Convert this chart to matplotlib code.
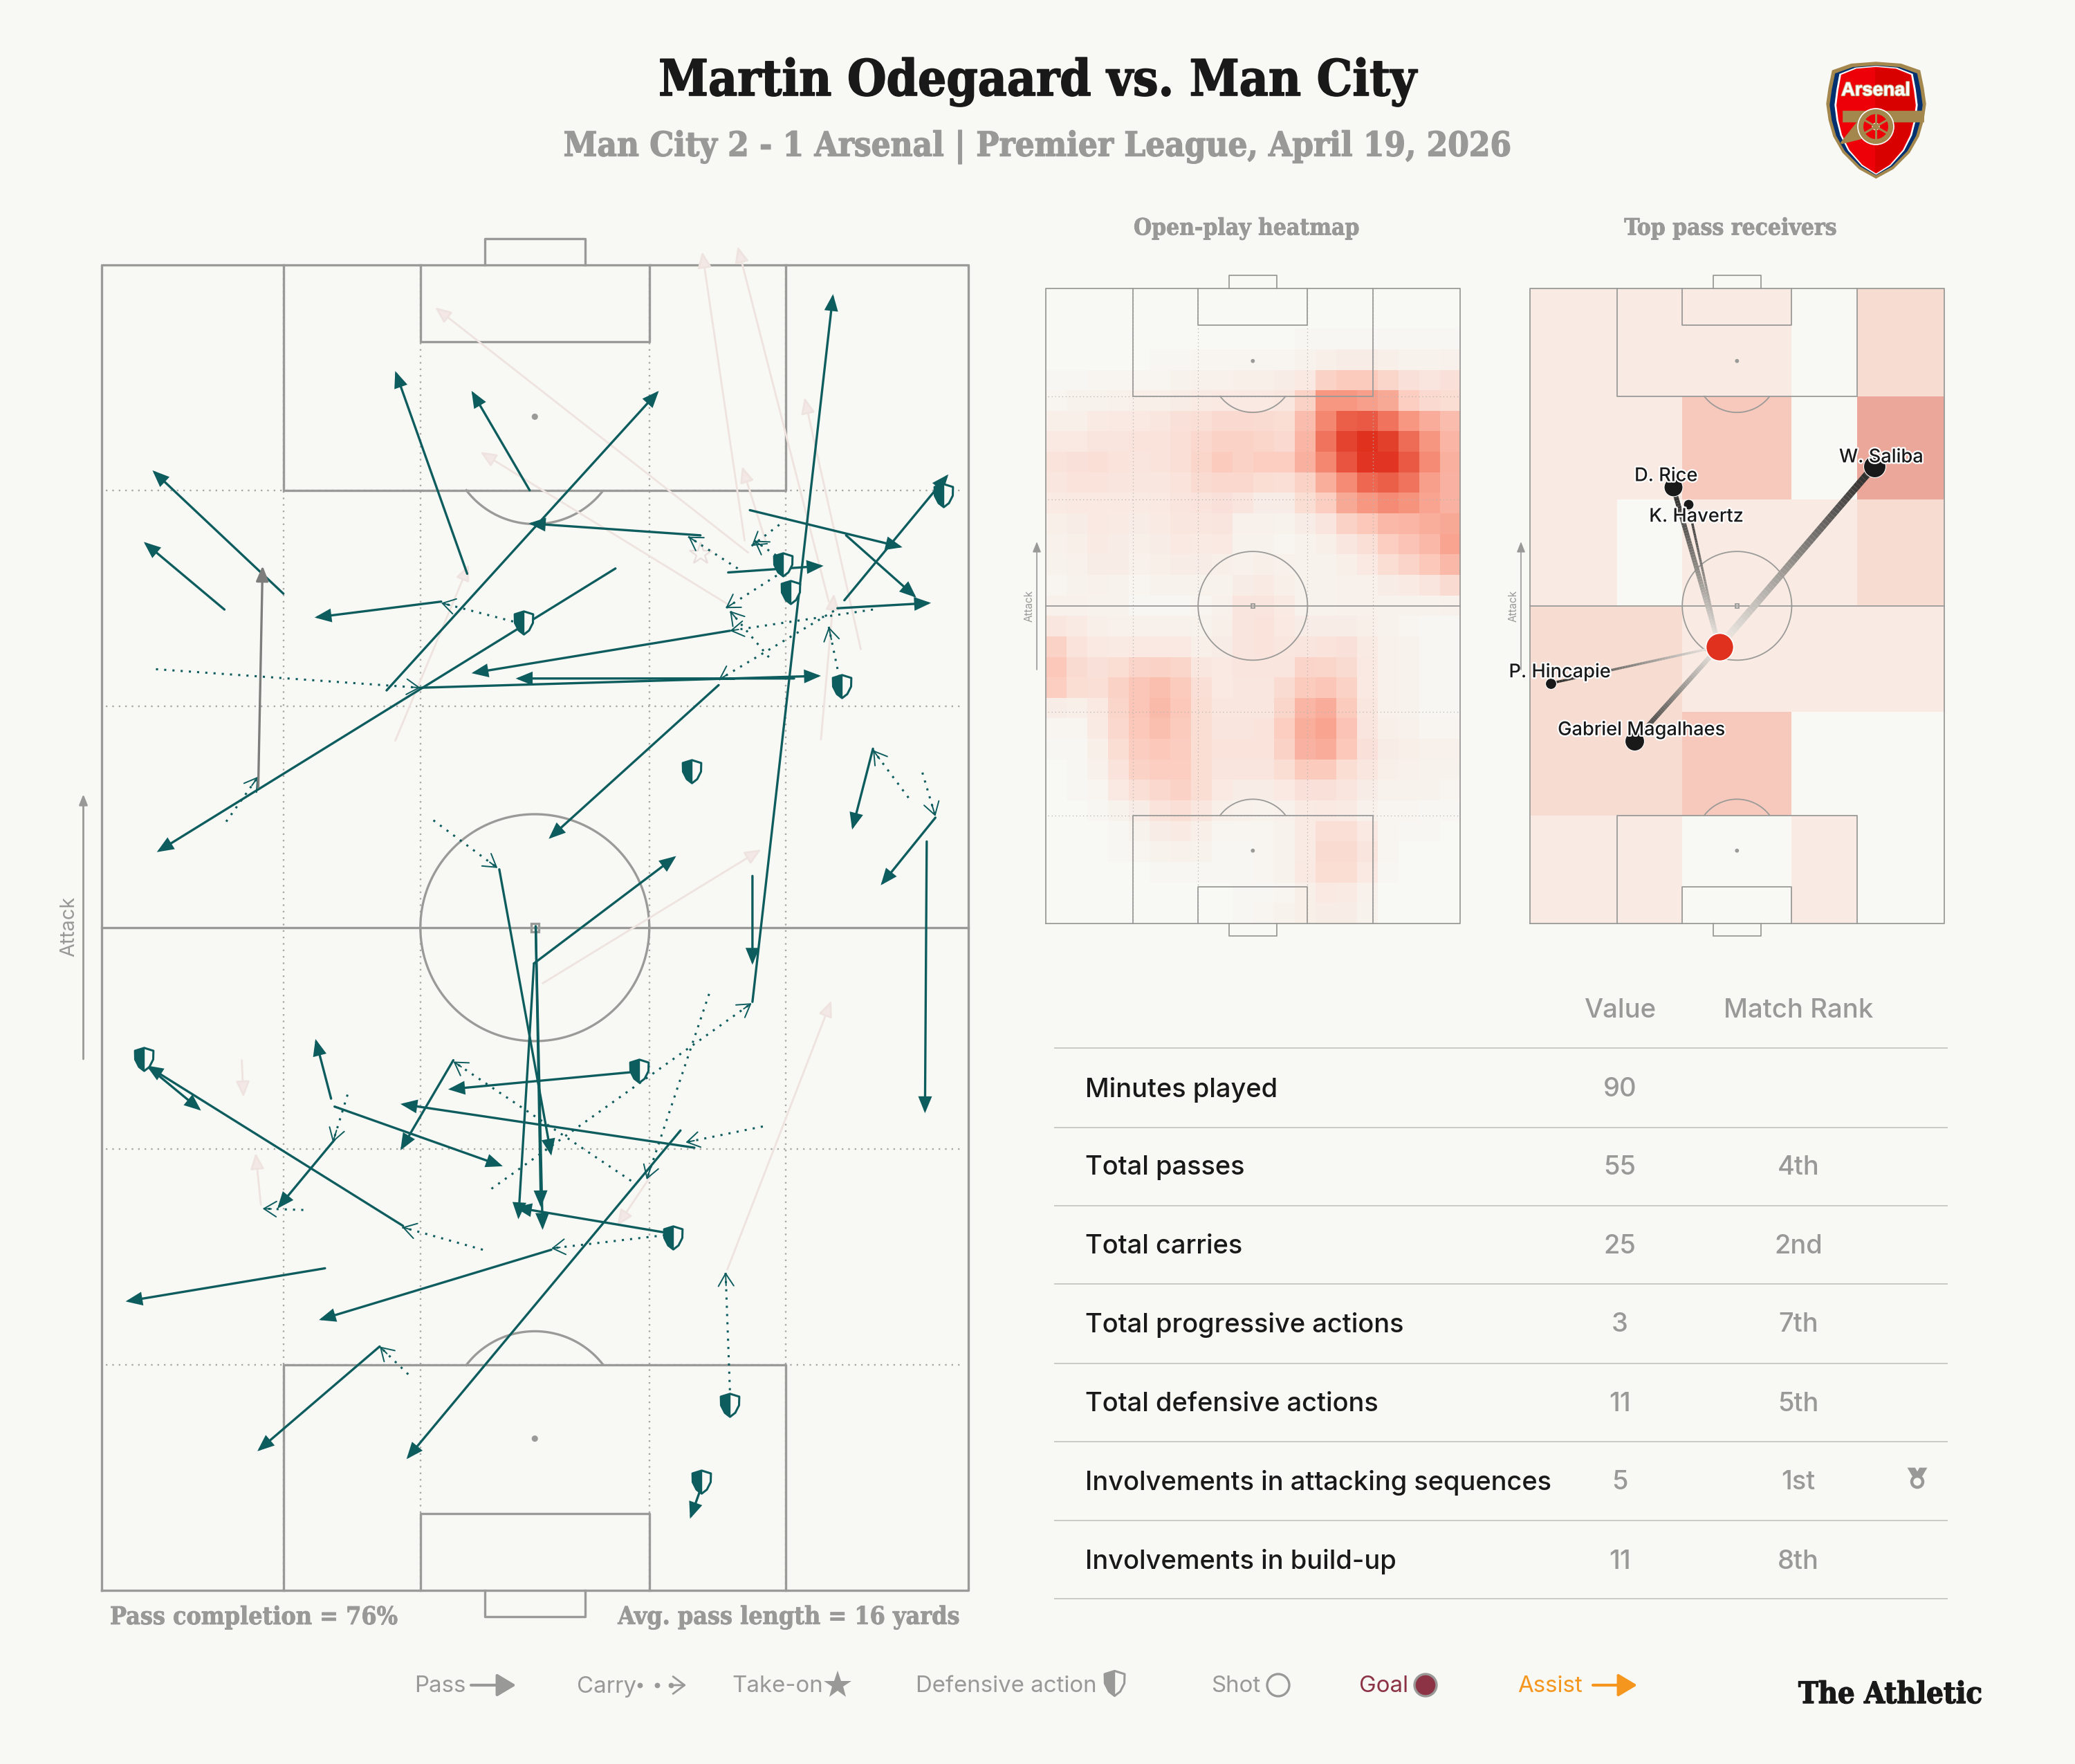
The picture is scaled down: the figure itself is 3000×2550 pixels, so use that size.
import numpy as np
import matplotlib
matplotlib.use("Agg")
import matplotlib.pyplot as plt
import matplotlib.patheffects as pe
from matplotlib.path import Path
from matplotlib.patches import FancyArrowPatch, Polygon, Circle, Ellipse, Rectangle
from matplotlib.collections import LineCollection
from matplotlib.colors import LinearSegmentedColormap, ListedColormap

BG = "#f8f8f4"
LINE = "#9a9a98"
GREY = "#999997"
TEAL = "#0d5c5e"
INK = "#191919"
SLAB = "DejaVu Serif"
SANS = "Inter"

# pitch coordinates: x 0-100 left to right, y 0-100 towards attacking goal
passes = [
    (21.0, 75.2, 5.9, 84.5), (14.2, 74.0, 4.9, 79.1), (42.2, 76.7, 33.9, 92.0),
    (49.4, 83.0, 42.7, 90.5), (32.9, 67.9, 64.3, 90.5), (69.1, 79.6, 49.3, 80.5),
    (59.3, 77.1, 6.4, 55.7), (39.2, 74.6, 24.6, 73.4), (72.3, 76.8, 83.3, 77.3),
    (74.8, 81.5, 92.4, 78.7), (85.9, 79.6, 94.0, 74.9), (85.7, 74.7, 97.7, 84.2),
    (84.9, 74.1, 95.7, 74.5), (72.5, 72.4, 42.7, 69.2), (36.8, 68.1, 83.0, 69.0),
    (79.9, 68.8, 47.8, 68.8), (71.2, 68.3, 51.6, 56.7), (75.1, 44.4, 84.4, 97.8),
    (95.2, 56.5, 95.0, 36.0), (75.1, 53.9, 75.1, 47.2), (96.2, 58.3, 89.9, 53.2),
    (89.0, 63.5, 86.6, 57.4), (49.9, 47.3, 66.3, 55.4), (45.9, 54.4, 51.9, 32.8),
    (50.1, 50.1, 50.9, 27.2), (50.1, 50.1, 50.7, 28.9), (49.9, 47.3, 48.1, 28.0),
    (61.2, 39.1, 40.0, 37.8), (68.4, 33.4, 34.5, 36.7), (26.9, 36.5, 46.3, 32.0),
    (40.6, 40.0, 34.5, 33.2), (26.5, 37.1, 24.7, 41.6), (5.2, 39.6, 11.5, 36.2),
    (34.8, 27.5, 5.2, 39.6), (26.9, 34.0, 20.3, 28.8), (65.0, 27.0, 47.7, 28.9),
    (51.9, 25.7, 25.1, 20.4), (25.8, 24.3, 2.8, 21.8), (66.8, 34.7, 35.2, 9.9),
    (32.1, 18.4, 18.0, 10.5), (69.1, 7.6, 67.9, 5.4),
]
key_passes = [(18.1, 60.6, 18.6, 77.3)]
failed_passes = [
    (74.6, 78.3, 38.5, 96.8), (74.2, 79.2, 69.3, 101.0), (83.9, 74.6, 73.4, 101.4),
    (87.6, 71.0, 81.1, 90.0), (83.0, 64.2, 84.5, 75.2), (72.5, 74.3, 43.7, 85.9),
    (76.6, 79.2, 73.9, 84.8), (33.9, 64.1, 42.4, 77.4), (50.9, 45.8, 76.1, 55.9),
    (72.2, 24.2, 84.2, 44.5), (16.2, 40.0, 16.4, 37.2), (18.4, 29.1, 17.8, 33.0),
    (63.3, 31.2, 59.5, 27.5),
]
carries = [
    (6.3, 69.5, 36.8, 68.1), (14.4, 58.0, 18.1, 61.4), (47.5, 73.1, 39.2, 74.5),
    (73.4, 77.1, 67.7, 79.5), (78.2, 80.4, 75.0, 78.8), (79.4, 77.4, 75.3, 79.2),
    (78.7, 76.9, 72.0, 74.1), (77.0, 70.4, 72.5, 73.9), (89.0, 74.0, 72.5, 72.4),
    (84.5, 73.9, 71.2, 68.7), (85.3, 68.3, 83.9, 72.7), (93.1, 59.8, 89.0, 63.4),
    (94.7, 61.7, 96.2, 58.4), (38.3, 58.1, 45.7, 54.5), (45.0, 30.3, 75.0, 44.3),
    (70.1, 45.0, 62.9, 31.0), (61.1, 30.9, 40.6, 39.9), (76.3, 35.0, 67.4, 33.8),
    (28.4, 37.4, 26.7, 33.8), (23.3, 28.7, 18.6, 28.8), (44.0, 25.7, 34.7, 27.4),
    (65.0, 26.8, 51.9, 25.8), (35.4, 16.3, 32.1, 18.4), (72.5, 15.1, 72.0, 24.0),
]
def_x = [48.7, 78.6, 79.5, 97.1, 85.4, 68.1, 4.9, 62.0, 65.9, 72.5, 69.2]
def_y = [73.0, 77.4, 75.3, 82.6, 68.2, 61.8, 40.1, 39.2, 26.6, 14.0, 8.2]
takeon_x = [69.1]
takeon_y = [78.2]

heat = [
    [0] * 20,
    [0] * 20,
    [0, 0, 0, 0, 0, 0, 0, 0, 0, 0, 0, 0, 1, 1, 1, 1, 1, 1, 1, 1],
    [0, 0, 0, 0, 0, 1, 1, 2, 2, 2, 2, 2, 3, 5, 6, 6, 5, 3, 3, 4],
    [1, 1, 2, 2, 2, 2, 3, 4, 4, 5, 5, 6, 8, 20, 24, 24, 18, 12, 10, 12],
    [2, 3, 3, 4, 5, 5, 6, 7, 8, 8, 8, 9, 20, 45, 45, 42, 38, 22, 16, 14],
    [5, 5, 7, 8, 8, 9, 12, 13, 16, 16, 15, 14, 30, 52, 72, 75, 62, 45, 37, 30],
    [8, 8, 10, 10, 11, 11, 13, 17, 20, 20, 18, 16, 33, 62, 88, 100, 90, 66, 46, 33],
    [11, 12, 13, 11, 10, 11, 13, 18, 24, 20, 22, 22, 35, 52, 78, 97, 97, 75, 50, 35],
    [9, 11, 11, 10, 9, 9, 11, 15, 17, 17, 14, 13, 20, 36, 50, 68, 72, 62, 42, 34],
    [7, 8, 8, 8, 7, 8, 10, 11, 12, 10, 6, 6, 14, 22, 38, 45, 50, 47, 40, 34],
    [5, 6, 8, 7, 6, 7, 9, 9, 10, 4, 4, 3, 6, 10, 20, 25, 32, 33, 36, 38],
    [4, 5, 7, 6, 5, 6, 8, 7, 8, 3, 3, 2, 3, 5, 9, 13, 22, 27, 32, 40],
    [3, 4, 6, 6, 4, 5, 6, 6, 5, 4, 5, 4, 3, 3, 5, 8, 14, 19, 25, 32],
    [2, 3, 4, 3, 2, 3, 3, 3, 3, 6, 7, 5, 3, 3, 4, 4, 6, 7, 10, 15],
    [4, 4, 3, 3, 1, 1, 1, 2, 4, 10, 10, 7, 3, 3, 4, 4, 3, 3, 3, 4],
    [9, 7, 5, 4, 4, 4, 4, 3, 5, 10, 11, 8, 6, 6, 6, 5, 3, 2, 1, 1],
    [20, 11, 8, 7, 8, 8, 8, 5, 6, 10, 11, 9, 10, 11, 12, 7, 4, 3, 1, 1],
    [25, 15, 12, 14, 19, 20, 18, 9, 8, 10, 10, 10, 19, 18, 15, 8, 4, 3, 1, 1],
    [22, 14, 13, 20, 26, 29, 24, 13, 8, 9, 9, 15, 24, 26, 20, 8, 4, 3, 1, 1],
    [6, 5, 8, 18, 26, 31, 25, 14, 9, 9, 9, 18, 33, 37, 24, 9, 4, 3, 1, 1],
    [2, 2, 7, 17, 25, 29, 24, 14, 10, 10, 11, 22, 36, 40, 27, 10, 5, 4, 2, 2],
    [1, 1, 5, 14, 23, 25, 23, 14, 11, 11, 11, 20, 34, 37, 25, 12, 6, 5, 4, 4],
    [0, 1, 4, 11, 20, 22, 22, 14, 10, 10, 10, 14, 24, 24, 14, 9, 5, 4, 3, 3],
    [0, 1, 2, 8, 13, 17, 20, 14, 8, 6, 6, 8, 12, 12, 10, 6, 3, 3, 3, 2],
    [0, 0, 1, 3, 6, 11, 13, 9, 5, 4, 3, 4, 7, 8, 7, 4, 2, 2, 1, 1],
    [0, 0, 0, 1, 3, 6, 7, 5, 2, 2, 2, 3, 7, 13, 13, 8, 2, 1, 1, 0],
    [0, 0, 0, 1, 2, 3, 4, 3, 1, 1, 2, 3, 7, 15, 15, 10, 2, 0, 0, 0],
    [0, 0, 0, 0, 0, 1, 1, 1, 1, 1, 2, 3, 8, 14, 14, 8, 1, 0, 0, 0],
    [0, 0, 0, 0, 0, 0, 0, 0, 0, 1, 1, 2, 5, 8, 7, 4, 0, 0, 0, 0],
    [0, 0, 0, 0, 0, 0, 0, 0, 0, 1, 2, 3, 5, 6, 6, 3, 0, 0, 0, 0],
]

zone_x = [0, 21.05, 36.8, 63.2, 78.9, 100]
zone_y = [100, 83, 66.7, 50, 33.3, 17, 0]
zone_levels = [
    [1, 1, 1, 0, 2],
    [1, 1, 3, 0, 4],
    [1, 0, 1, 1, 2],
    [2, 2, 1, 1, 1],
    [2, 2, 3, 0, 0],
    [1, 1, 0, 1, 0],
]
player_x = 45.75
player_y = 43.6
receiver_names = ["W. Saliba", "D. Rice", "K. Havertz", "P. Hincapie", "Gabriel Magalhaes"]
receiver_x = [83.1, 34.6, 38.2, 5.1, 25.2]
receiver_y = [72.0, 68.7, 66.0, 37.8, 28.7]
receiver_passes = [9, 6, 3, 3, 6]

metrics = [
    "Minutes played", "Total passes", "Total carries", "Total progressive actions",
    "Total defensive actions", "Involvements in attacking sequences", "Involvements in build-up",
]
metric_values = ["90", "55", "25", "3", "11", "5", "11"]
metric_ranks = ["", "4th", "2nd", "7th", "5th", "1st", "8th"]

plt.rcParams["font.family"] = [SANS, "DejaVu Sans"]
fig = plt.figure(figsize=(15, 12.75), dpi=200, facecolor=BG)

# overlay in pixels, all fixed text and furniture goes here
over = fig.add_axes([0, 0, 1, 1], zorder=10)
over.set_xlim(0, 3000)
over.set_ylim(2550, 0)
over.axis("off")
over.patch.set_alpha(0)


def pitch_axes(left, top, right, bottom):
    ax = fig.add_axes([left / 3000, 1 - bottom / 2550, (right - left) / 3000, (bottom - top) / 2550])
    ax.set_xlim(0, 100)
    ax.set_ylim(0, 100)
    ax.axis("off")
    return ax


def draw_pitch(ax, lw, spot, dot_color):
    kw = dict(color=LINE, lw=lw, clip_on=False, zorder=3, solid_capstyle="projecting")
    for x in [21.05, 36.8, 63.2, 78.9]:
        ax.plot([x, x], [0, 100], color=dot_color, lw=lw * 0.7, ls=(0, (1, 3)), zorder=1)
    for y in [17, 33.3, 66.7, 83]:
        ax.plot([0.5, 99.5], [y, y], color=dot_color, lw=lw * 0.7, ls=(0, (1, 3)), zorder=1)
    ax.plot([0, 100, 100, 0, 0], [0, 0, 100, 100, 0], **kw)
    ax.plot([0, 100], [50, 50], **kw)
    t = np.linspace(0, 2 * np.pi, 200)
    ax.plot(50 + 13.2 * np.cos(t), 50 + 8.56 * np.sin(t), color=LINE, lw=lw, zorder=3)
    for sign in [1, -1]:
        def py(v):
            return 50 + sign * (v - 50)
        ax.plot([21.05, 21.05, 78.9, 78.9], [py(100), py(83), py(83), py(100)], **kw)
        ax.plot([36.8, 36.8, 63.2, 63.2], [py(100), py(94.2), py(94.2), py(100)], **kw)
        ax.plot([44.2, 44.2, 55.8, 55.8], [py(100), py(102), py(102), py(100)], **kw)
        ax.add_patch(Ellipse((50, py(88.55)), spot, spot * 0.654, color=LINE, zorder=3))
        arc_x = 50 + 9.9 * np.cos(t)
        arc_y = 86.87 + 6.42 * np.sin(t)
        mask = arc_y < 83
        ax.plot(arc_x[mask], py(arc_y[mask]), color=LINE, lw=lw, zorder=3)
    ax.add_patch(Rectangle((50 - spot * 0.9, 50 - spot * 0.6), spot * 1.8, spot * 1.2,
                           fc="none", ec=LINE, lw=lw, zorder=3))


def attack_label(x_arrow, x_text, y0, y1, size, lw):
    over.add_patch(FancyArrowPatch((x_arrow, y0), (x_arrow, y1), arrowstyle="-|>,head_length=0.5,head_width=0.2",
                                   mutation_scale=9, color=GREY, lw=lw, shrinkA=0, shrinkB=0))
    over.text(x_text, (y0 + y1) / 2, "Attack", rotation=90, color=GREY, fontsize=size, ha="center", va="center")


def slab(x, y, s, size, color=GREY, ha="center", bold=0.4):
    over.text(x, y, s, family=SLAB, stretch="condensed", fontweight="bold", color=color, fontsize=size,
              ha=ha, va="center", path_effects=[pe.withStroke(linewidth=bold, foreground=color)])


# main pitch
main = pitch_axes(146.5, 383, 1400, 2299)
draw_pitch(main, 1.2, 0.5, "#a8a8a6")

for x0, y0, x1, y1 in failed_passes:
    main.add_patch(FancyArrowPatch((x0, y0), (x1, y1), arrowstyle="-|>,head_length=0.7,head_width=0.3",
                                   mutation_scale=10, fc="#f3e8e5", ec="#eee3df", lw=1.0,
                                   shrinkA=0, shrinkB=0, clip_on=False, zorder=4))
main.plot(takeon_x, takeon_y, "*", ms=12, mfc=BG, mec="#e9dedb", mew=0.8, zorder=4)

for x0, y0, x1, y1 in carries:
    main.plot([x0, x1], [y0, y1], color=TEAL, lw=1.1, ls=(0, (1, 2.9)), zorder=5)
    d = np.array([x1 - x0, y1 - y0])
    back = np.array([x1, y1]) - d / np.hypot(*d)
    main.add_patch(FancyArrowPatch(tuple(back), (x1, y1), arrowstyle="->,head_length=0.65,head_width=0.4",
                                   mutation_scale=10, color=TEAL, lw=0.7, shrinkA=0, shrinkB=0, zorder=5))

for x0, y0, x1, y1 in passes:
    main.add_patch(FancyArrowPatch((x0, y0), (x1, y1), arrowstyle="-|>,head_length=0.66,head_width=0.27",
                                   mutation_scale=10, color=TEAL, lw=1.2, shrinkA=0, shrinkB=0,
                                   joinstyle="miter", clip_on=False, zorder=6))
for x0, y0, x1, y1 in key_passes:
    main.add_patch(FancyArrowPatch((x0, y0), (x1, y1), arrowstyle="-|>,head_length=0.66,head_width=0.27",
                                   mutation_scale=10, color="#7d7d7b", lw=1.2, shrinkA=0, shrinkB=0, zorder=6))

# shield marker, outer outline plus filled left half
shield_v = [(-0.8, 0.75), (0, 1.0), (0.8, 0.75), (0.78, 0.0), (0.45, -0.65), (0, -1.0),
            (-0.45, -0.65), (-0.78, 0.0), (-0.8, 0.75)]
shield = Path(shield_v, closed=True)
half = Path([(-0.8, 0.75), (0, 1.0), (0, -1.0), (-0.45, -0.65), (-0.78, 0.0), (-0.8, 0.75)], closed=True)
main.plot(def_x, def_y, ls="", marker=shield, ms=12, mfc=BG, mec=TEAL, mew=1.1, zorder=7)
main.plot(def_x, def_y, ls="", marker=half, ms=12, mfc=TEAL, mec=TEAL, mew=0.5, zorder=7)

attack_label(120.5, 100, 1531, 1148, 10.4, 1.0)

# heatmap
heat_ax = pitch_axes(1511.6, 416.7, 2111, 1334.8)
heat_cmap = LinearSegmentedColormap.from_list(
    "heat", [(0, BG), (0.25, "#fcc9bb"), (0.5, "#f68c75"), (0.75, "#ea5a44"), (1, "#e0301e")])
heat_ax.imshow(np.array(heat), extent=(0, 100, 0, 100), origin="upper", aspect="auto",
               cmap=heat_cmap, vmin=0, vmax=100, interpolation="nearest", zorder=0)
heat_ax.set_xlim(0, 100)
heat_ax.set_ylim(0, 100)
draw_pitch(heat_ax, 0.65, 0.5, "#b5b5b3")
attack_label(1499, 1488, 968, 783, 5.5, 0.6)

# receivers
rec_ax = pitch_axes(2211.6, 416.7, 2811, 1334.8)
zone_cmap = ListedColormap([BG, "#f9ebe3", "#f7dcd2", "#f6c9bc", "#eca79b"])
rec_ax.pcolormesh(zone_x, zone_y, np.array(zone_levels), cmap=zone_cmap, vmin=-0.5, vmax=4.5, zorder=0)
draw_pitch(rec_ax, 0.65, 0.5, "#00000000")
attack_label(2199, 2188, 968, 783, 5.5, 0.6)

line_cmap = LinearSegmentedColormap.from_list("fade", ["#f4efe9", "#8a8682", "#252525"])
receiver_d = [32, 27, 15, 16, 28]
label_off = [(1.7, 1.35), (-1.7, 1.7), (2.0, -2.0), (2.2, 1.7), (1.8, 1.7)]
for i, name in enumerate(receiver_names):
    t = np.linspace(0, 1, 60)
    xs = player_x + (receiver_x[i] - player_x) * t
    ys = player_y + (receiver_y[i] - player_y) * t
    segs = np.stack([np.column_stack([xs[:-1], ys[:-1]]), np.column_stack([xs[1:], ys[1:]])], axis=1)
    lc = LineCollection(segs, colors=line_cmap(t[:-1]), linewidths=receiver_passes[i] * 0.42, zorder=5)
    rec_ax.add_collection(lc)
    d_pt = receiver_d[i] * 72 / 200
    rec_ax.scatter(receiver_x[i], receiver_y[i], s=d_pt ** 2, color=INK, ec="white", lw=0.4, zorder=6)
    rec_ax.text(receiver_x[i] + label_off[i][0], receiver_y[i] + label_off[i][1], name, color=INK,
                fontsize=9.8, fontweight="medium", ha="center", va="center", zorder=8, clip_on=False,
                path_effects=[pe.withStroke(linewidth=1.6, foreground="white")])
rec_ax.scatter(player_x, player_y, s=(40 * 72 / 200) ** 2, color="#e0301e", ec="white", lw=0.6, zorder=7)

# header
slab(1500, 118, "Martin Odegaard vs. Man City", 26, INK, bold=0.6)
slab(1500, 213, "Man City 2 - 1 Arsenal | Premier League, April 19, 2026", 17.6, bold=0.5)
slab(1802, 330, "Open-play heatmap", 12, bold=0.3)
slab(2502, 330, "Top pass receivers", 12, bold=0.3)
slab(159, 2338, "Pass completion = 76%", 12.8, ha="left", bold=0.3)
slab(1387, 2338, "Avg. pass length = 16 yards", 12.8, ha="right", bold=0.3)

# table
over.text(2342, 1461, "Value", color=GREY, fontsize=13.8, fontweight="medium", ha="center", va="center")
over.text(2600, 1461, "Match Rank", color=GREY, fontsize=13.8, fontweight="medium", ha="center", va="center")
rule_y = [1515, 1630, 1743, 1856, 1971, 2084, 2198, 2311]
for y in rule_y:
    over.plot([1525, 2815], [y, y], color="#c9c9c5", lw=0.7)
row_y = [1575, 1688, 1802, 1915, 2030, 2143, 2258]
for y, name, val, rank in zip(row_y, metrics, metric_values, metric_ranks):
    over.text(1569, y, name, color=INK, fontsize=13.7, fontweight="medium", ha="left", va="center")
    over.text(2342, y, val, color=GREY, fontsize=13.7, fontweight="medium", ha="center", va="center")
    over.text(2600, y, rank, color=GREY, fontsize=13.7, fontweight="medium", ha="center", va="center")

# medal
over.add_patch(Polygon([(2760, 2123), (2768, 2123), (2772, 2130), (2776, 2123), (2784, 2123), (2777, 2135), (2767, 2135)],
                       color=GREY))
over.add_patch(Circle((2772, 2142), 8, fc=BG, ec=GREY, lw=1.6))

# legend
leg_y = 2438
leg_size = 11.9
over.text(599, leg_y, "Pass", color=GREY, fontsize=leg_size, ha="left", va="center")
over.add_patch(FancyArrowPatch((681, leg_y - 2), (746, leg_y - 2), arrowstyle="-|>,head_length=0.7,head_width=0.42",
                               mutation_scale=12, color=GREY, lw=1.5, shrinkA=0, shrinkB=0))
over.text(834, leg_y, "Carry", color=GREY, fontsize=leg_size, ha="left", va="center")
over.plot([925, 950, 970], [leg_y - 2] * 3, ls="", marker="o", ms=1.8, color=GREY)
over.add_patch(FancyArrowPatch((975, leg_y - 2), (992, leg_y - 2), arrowstyle="->,head_length=0.6,head_width=0.45",
                               mutation_scale=10, color=GREY, lw=1.0, shrinkA=0, shrinkB=0))
over.text(1058, leg_y, "Take-on", color=GREY, fontsize=leg_size, ha="left", va="center")
over.plot([1211], [leg_y - 2], "*", ms=15, color=GREY, mew=0)
over.text(1324, leg_y, "Defensive action", color=GREY, fontsize=leg_size, ha="left", va="center")
over.plot([1611], [leg_y - 5], ls="", marker=shield, ms=13, mfc=BG, mec=GREY, mew=1.1)
over.plot([1611], [leg_y - 5], ls="", marker=half, ms=13, mfc=GREY, mec=GREY, mew=0.5)
over.text(1751, leg_y, "Shot", color=GREY, fontsize=leg_size, ha="left", va="center")
over.add_patch(Circle((1848, leg_y - 2), 16, fc=BG, ec=GREY, lw=1.2))
over.text(1965, leg_y, "Goal", color="#8c3346", fontsize=leg_size, ha="left", va="center")
over.add_patch(Circle((2061, leg_y - 2), 16, fc="#8c3346", ec=GREY, lw=1.2))
over.text(2194, leg_y, "Assist", color="#f5961e", fontsize=leg_size, ha="left", va="center")
over.add_patch(FancyArrowPatch((2303, leg_y - 2), (2367, leg_y - 2), arrowstyle="-|>,head_length=0.7,head_width=0.42",
                               mutation_scale=12, color="#f5961e", lw=1.5, shrinkA=0, shrinkB=0))
slab(2600, 2450, "The Athletic", 15.5, INK, ha="left", bold=0.5)

crest_x = np.array([270, 350, 457, 565, 645, 660, 670, 660, 640, 600, 530, 457, 385, 315, 275, 255, 245, 255])
crest_y = np.array([128, 100, 92, 100, 128, 200, 270, 340, 410, 480, 550, 590, 550, 480, 410, 340, 270, 200])


def crest_poly(sx, sy, dy=0):
    px = 2560 + (457 + (crest_x - 457) * sx) / 3
    py = 60 + (320 + (crest_y - 320) * sy + dy) / 3
    return np.column_stack([px, py])


over.add_patch(Polygon(crest_poly(1, 1), color="#a3874c"))
over.add_patch(Polygon(crest_poly(0.93, 0.94, 2), color="#00306f"))
over.add_patch(Polygon(crest_poly(0.83, 0.93, 2), color="white"))
red = Polygon(crest_poly(0.79, 0.91, 2), color="#ee0008")
over.add_patch(red)
right = Rectangle((2712, 90), 75, 170, color="#d90000")
over.add_patch(right)
right.set_clip_path(red)
over.add_patch(Rectangle((2665, 161), 115, 14, color="#a3874c"))
over.add_patch(Polygon([(2685, 178), (2700, 180), (2690, 200), (2662, 207)], color="#a3874c"))
over.add_patch(Circle((2712, 183), 26, fc="#a3874c", ec="white", lw=0.6))
over.add_patch(Circle((2712, 183), 18, fc="#ee0008", ec="none"))
for a in np.deg2rad([30, 90, 150, 210, 270, 330]):
    over.plot([2712, 2712 + 20 * np.cos(a)], [183, 183 + 20 * np.sin(a)], color="#a3874c", lw=1.1)
over.add_patch(Circle((2712, 183), 5, fc="#a3874c", ec="white", lw=0.4))
over.text(2712, 131, "Arsenal", family="Liberation Sans", fontweight="bold", color="white", fontsize=9.8,
          ha="center", va="center", path_effects=[pe.withStroke(linewidth=0.8, foreground="#c9b98f")])

fig.savefig("out.png", dpi=200, facecolor=BG)
